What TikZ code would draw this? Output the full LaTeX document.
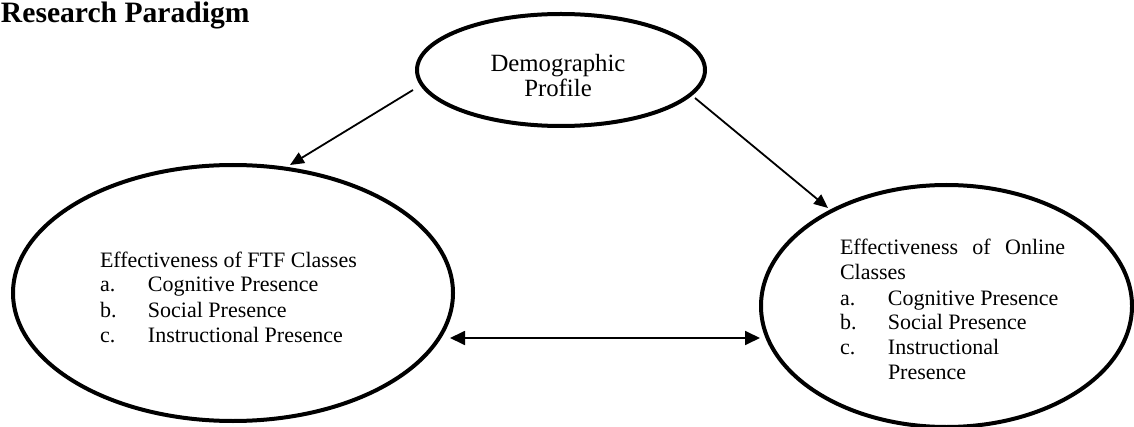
\documentclass[tikz,border=0pt]{standalone}
\usepackage{fontspec}
\setmainfont{Liberation Serif}
\usetikzlibrary{arrows.meta,calc,shapes.geometric}
\tikzset{
  bubble/.style={ellipse, draw=black, line width=2pt, inner sep=0pt},
  conn/.style={line width=0.9pt, -{Triangle[length=7pt,width=6pt]}},
  dconn/.style={line width=0.9pt, {Triangle[length=7.5pt,width=7pt]}-{Triangle[length=7.5pt,width=7pt]}},
  txt/.style={inner sep=0pt, outer sep=0pt},
  listfont/.style={font=\fontsize{11pt}{12.5pt}\selectfont},
  topfont/.style={font=\fontsize{12.4pt}{12pt}\selectfont}
}
\begin{document}
\begin{tikzpicture}[x=0.5pt,y=-0.5pt]
\useasboundingbox (0,0) rectangle (1134,427);
% title
\node[txt, anchor=base west, font=\fontsize{14.8pt}{16pt}\selectfont\bfseries] (title) at (1,23) {Research Paradigm};
% ellipses
\node[bubble, minimum width=144pt, minimum height=56pt] (top) at (561,70) {};
\node[bubble, minimum width=220pt, minimum height=128pt] (left) at (233,293) {};
\node[bubble, minimum width=185.5pt, minimum height=121pt] (right) at (946.5,306) {};
% texts
\node[txt, topfont, anchor=base] (toptext) at (558,72)
  {\begin{tabular}[t]{@{}c@{}}Demographic\\Profile\end{tabular}};
\node[txt, listfont, anchor=base west] (lefttext) at (100,267)
  {\begin{tabular}[t]{@{}l@{}}
   Effectiveness of FTF Classes\\
   \makebox[24pt][l]{a.}Cognitive Presence\\
   \makebox[24pt][l]{b.}Social Presence\\
   \makebox[24pt][l]{c.}Instructional Presence
   \end{tabular}};
\node[txt, listfont, anchor=base west] (righttext) at (840,255)
  {\begin{tabular}[t]{@{}l@{}}
   \makebox[112.5pt][s]{Effectiveness of Online}\\
   Classes\\
   \makebox[24pt][l]{a.}Cognitive Presence\\
   \makebox[24pt][l]{b.}Social Presence\\
   \makebox[24pt][l]{c.}Instructional\\
   \makebox[24pt][l]{}Presence
   \end{tabular}};
% connectors
\draw[conn] ($(top.west)+(-2,20)$) -- ($(left.north)+(57,2)$);
\draw[conn] ($(top.east)+(-12,28)$) -- ($(right.north)+(-118.5,25)$);
\draw[dconn] ($(left.east)+(-5,45)$) -- ($(right.west)+(1,32)$);
\end{tikzpicture}
\end{document}
